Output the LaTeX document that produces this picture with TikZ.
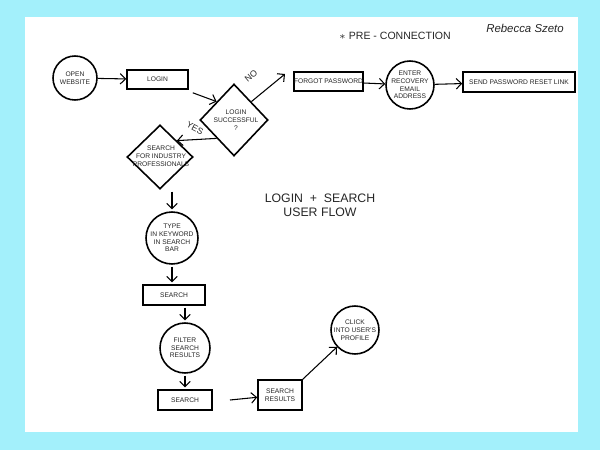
\documentclass[tikz,border=0pt]{standalone}
\usepackage{fontspec}
\setmainfont{Liberation Sans}
\usetikzlibrary{shapes.geometric,arrows.meta}
\definecolor{bgc}{HTML}{A3F0FB}
\begin{document}
\begin{tikzpicture}[x=0.02cm,y=-0.02cm,
  every node/.style={font=\fontsize{3.8}{4.4}\selectfont, align=center, text=black!85},
  box/.style={draw, line width=0.9pt, inner sep=0pt},
  circ/.style={draw, circle, line width=0.9pt, inner sep=0pt},
  dia/.style={draw, diamond, line width=0.9pt, inner sep=0pt},
  arr/.style={-{Straight Barb[length=3pt]}, line width=0.6pt}]
\fill[bgc] (0,0) rectangle (600,450);
\fill[white] (25,17) rectangle (578,432);
\node[circ, minimum size=0.88cm] (open) at (75,78) {OPEN\\WEBSITE};
\node[box, minimum width=1.22cm, minimum height=0.38cm] (login) at (157.5,79.5) {LOGIN};
\node[dia, minimum width=1.36cm, minimum height=1.44cm] (ok) at (234,120) {};
\node (oktxt) at (236,120) {LOGIN\\SUCCESSFUL\\?};
\node[box, minimum width=1.3cm, minimum height=0.38cm] (forgot) at (328.5,81.5) {FORGOT PASSWORD};
\node[circ, minimum size=0.96cm] (email) at (410,85) {ENTER\\RECOVERY\\EMAIL\\ADDRESS};
\node[box, minimum width=2.24cm, minimum height=0.4cm] (send) at (519,82) {SEND PASSWORD RESET LINK};
\node[dia, minimum width=1.32cm, minimum height=1.28cm] (sfi) at (160,157) {};
\node (sfitxt) at (161,156) {SEARCH\\FOR INDUSTRY\\PROFESSIONALS};
\node[circ, minimum size=1.04cm] (type) at (172,238) {TYPE\\IN KEYWORD\\IN SEARCH\\BAR};
\node[box, minimum width=1.24cm, minimum height=0.4cm] (s1) at (174,295) {SEARCH};
\node[circ, minimum size=1.0cm] (filter) at (185,348) {FILTER\\SEARCH\\RESULTS};
\node[box, minimum width=1.08cm, minimum height=0.4cm] (s2) at (185,400) {SEARCH};
\node[box, minimum width=0.88cm, minimum height=0.6cm] (res) at (280,395) {SEARCH\\RESULTS};
\node[circ, minimum size=0.96cm] (click) at (355,330) {CLICK\\INTO USER'S\\PROFILE};
\coordinate (nend) at (285,74);
\coordinate (s2end) at (230,400);
\draw[arr] (open) -- (login);
\draw[arr] (login.south east) ++(4,3) -- (ok.north west);
\draw[arr] (ok.north east) -- (nend);
\draw[arr] (ok.south west) -- (sfi.north east);
\node[rotate=40, font=\fontsize{5}{5}\selectfont] (no) at (251,76) {NO};
\node[rotate=-28, font=\fontsize{5}{5}\selectfont] (yes) at (195,128) {YES};
\draw[arr] (forgot) -- (email);
\draw[arr] (email) -- (send);
\draw[arr] ([yshift=-1pt]sfi.south -| type.north) -- ([yshift=1pt]type.north);
\draw[arr] ([yshift=-1pt]type.south) -- ([yshift=1pt]type.south |- s1.north);
\draw[arr] ([yshift=-1pt]s1.south -| filter.north) -- ([yshift=1pt]filter.north);
\draw[arr] ([yshift=-1pt]filter.south) -- ([yshift=1pt]s2.north);
\draw[arr] (s2end) -- (res);
\draw[arr] (res.north east) -- (click);
\node[font=\fontsize{7}{8}\selectfont] (title) at (320,205) {LOGIN \;+\; SEARCH\\USER FLOW};
\node[font=\fontsize{6}{7}\selectfont] (pre) at (395,36) {$\ast$ PRE - CONNECTION};
\node[font=\itshape\fontsize{6.5}{7}\selectfont] (name) at (525,28) {Rebecca Szeto};
\end{tikzpicture}
\end{document}
